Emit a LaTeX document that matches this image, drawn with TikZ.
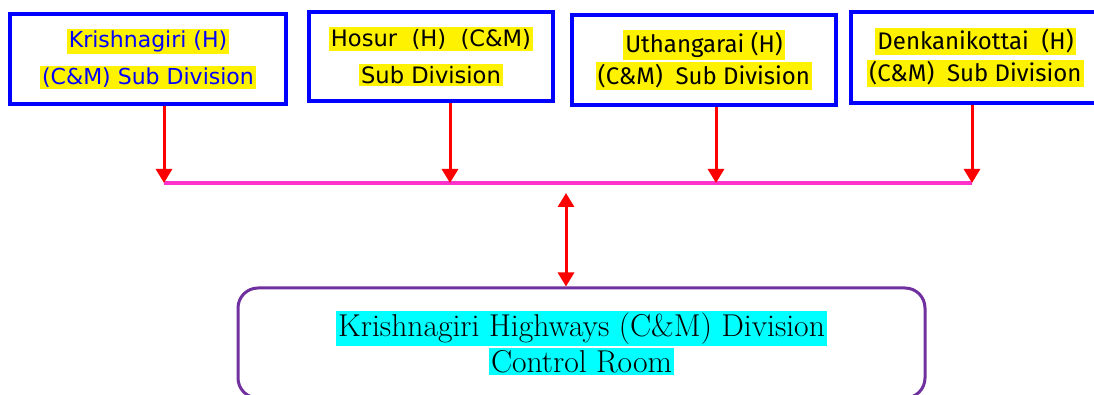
\documentclass[tikz,border=0pt]{standalone}
\usepackage{fontspec}
\newfontfamily\comicfont{DejaVu Sans}
\newfontfamily\candarafont{Fira Sans}
\usetikzlibrary{arrows.meta}
\definecolor{boxblue}{RGB}{0,0,255}
\definecolor{buspink}{RGB}{255,51,204}
\definecolor{roompurple}{RGB}{112,48,160}
\definecolor{hlcyan}{RGB}{0,255,255}
\newcommand{\hly}[1]{{\setlength{\fboxsep}{1pt}\colorbox{yellow}{#1}}}
\newcommand{\hlc}[1]{{\setlength{\fboxsep}{1pt}\colorbox{hlcyan}{#1}}}
\tikzset{
  subbox/.style={draw=boxblue, line width=2pt, align=center, inner sep=0pt},
  downarr/.style={red, line width=1.5pt, -{Triangle[length=7pt,width=8pt]}},
  duplex/.style={red, line width=1.5pt, {Triangle[length=7pt,width=8pt]}-{Triangle[length=7pt,width=8pt]}},
  roombox/.style={draw=roompurple, line width=1.5pt, rounded corners=10pt, align=center,
    minimum width=343.5pt, minimum height=55pt},
}
\begin{document}
\begin{tikzpicture}[x=0.5pt,y=-0.5pt]
    \useasboundingbox (0,0) rectangle (1094,395);

    % Subdivisiones
    \node[subbox, minimum width=138pt, minimum height=45pt,
          font=\comicfont\fontsize{11}{18.5}\selectfont, text=boxblue] (box1) at (148,59)
        {\hly{Krishnagiri (H)}\\\hly{(C\&M) Sub Division}};
    \node[subbox, minimum width=122pt, minimum height=44.5pt,
          font=\comicfont\fontsize{11.3}{18.5}\selectfont] (box2) at (431,56.5)
        {\hly{Hosur\ \ (H)\ \ (C\&M)}\\\hly{Sub Division}};
    \node[subbox, minimum width=132pt, minimum height=45pt,
          font=\candarafont\fontsize{12}{16}\selectfont] (box3) at (704,60)
        {\hly{Uthangarai (H)}\\\hly{(C\&M)\ \ Sub Division}};
    \node[subbox, minimum width=124.5pt, minimum height=45.5pt,
          font=\candarafont\fontsize{12}{16}\selectfont] (box4) at (975.5,57.5)
        {\hly{Denkanikottai\ \ (H)}\\\hly{(C\&M)\ \ Sub Division}};

    % Sala de control
    \node[roombox, font=\fontsize{15.8}{16.5}\selectfont] (room) at (581.5,343)
        {\hlc{Krishnagiri Highways (C\&M) Division}\\\hlc{Control Room}};

    % Barra comun
    \foreach \i/\x in {1/164,2/450,3/716,4/972}
        \coordinate (b\i) at (\x,183);
    \draw[buspink, line width=1.6pt] (b1) -- (b4);

    % Flechas hacia la barra
    \foreach \i in {1,2,3,4}
        \draw[downarr] (box\i.south -| b\i) -- (b\i);

    % Enlace con la sala
    \coordinate (hub) at (566,183);
    \draw[duplex] ([yshift=-5pt]hub) -- (room.north -| hub);
\end{tikzpicture}
\end{document}
